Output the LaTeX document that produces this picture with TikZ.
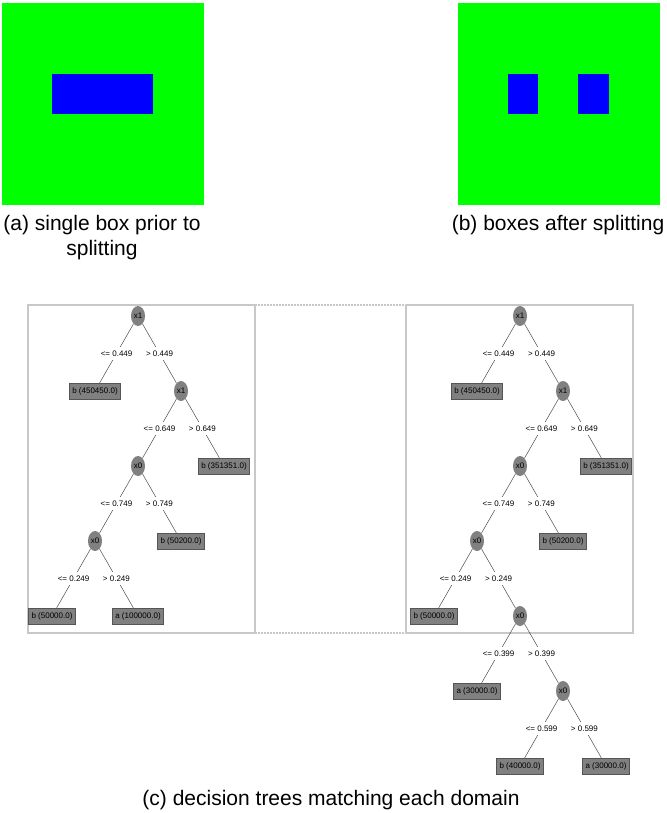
\documentclass[tikz,border=0pt]{standalone}
\usepackage{fontspec}
\setmainfont{Liberation Sans}
\usetikzlibrary{positioning,shapes.geometric}

\definecolor{domaingreen}{RGB}{0,255,0}
\definecolor{domainblue}{RGB}{0,0,255}
\definecolor{nodegray}{RGB}{128,128,128}
\definecolor{leafrim}{RGB}{85,85,85}
\definecolor{framegray}{RGB}{200,200,200}

\begin{document}
\begin{tikzpicture}[x=1pt,y=-1pt,node distance=75pt and 43pt,on grid,
    split/.style={ellipse,fill=nodegray,minimum width=14pt,minimum height=20pt,
      inner sep=0pt,font=\fontsize{8}{9}\selectfont},
    leaf/.style={rectangle,draw=leafrim,fill=nodegray,minimum height=16pt,
      inner xsep=3pt,inner ysep=0pt,font=\fontsize{8}{9}\selectfont},
    cond/.style={fill=white,inner xsep=2pt,inner ysep=4pt,font=\fontsize{8}{9}\selectfont},
    branch/.style={draw=black!70,line width=0.5pt},
    frame/.style={draw=framegray,line width=2pt},
    caption/.style={font=\fontsize{21}{25}\selectfont,align=center}]
  \useasboundingbox (0,0) rectangle (666,813);

  % domains
  \fill[domaingreen] (2,3) rectangle (204,205);
  \fill[domainblue] (52,74) rectangle (153,114);
  \fill[domaingreen] (458,3) rectangle (660,205);
  \fill[domainblue] (508,74) rectangle (538,114);
  \fill[domainblue] (578,74) rectangle (609,114);

  \node[caption] (capA) at (102,238) {(a) single box prior to\\splitting};
  \node[caption] (capB) at (558,225) {(b) boxes after splitting};

  % tree frames
  \coordinate (LT) at (255,305);
  \coordinate (LB) at (255,633);
  \coordinate (RT) at (406,305);
  \coordinate (RB) at (406,633);
  \draw[frame] (28,305) rectangle (LB);
  \draw[frame] (RT) rectangle (633,633);
  \draw[framegray,line width=1.5pt,dash pattern=on 1.5pt off 1.5pt]
    (LT) -- (RT) (LB) -- (RB);

  % left tree
  \node[split] (L1) at (138,316)    {x1};
  \node[leaf]  (L2) [below left=of L1]  {b (450450.0)};
  \node[split] (L3) [below right=of L1] {x1};
  \node[split] (L4) [below left=of L3]  {x0};
  \node[leaf]  (L5) [below right=of L3] {b (351351.0)};
  \node[split] (L6) [below left=of L4]  {x0};
  \node[leaf]  (L7) [below right=of L4] {b (50200.0)};
  \node[leaf]  (L8) [below left=of L6]  {b (50000.0)};
  \node[leaf]  (L9) [below right=of L6] {a (100000.0)};

  \path[branch] (L1) edge node[cond] {<= 0.449} (L2)
                (L1) edge node[cond] {> 0.449} (L3)
                (L3) edge node[cond] {<= 0.649} (L4)
                (L3) edge node[cond] {> 0.649} (L5)
                (L4) edge node[cond] {<= 0.749} (L6)
                (L4) edge node[cond] {> 0.749} (L7)
                (L6) edge node[cond] {<= 0.249} (L8)
                (L6) edge node[cond] {> 0.249} (L9);

  % right tree
  \node[split] (R1) at (520,316)    {x1};
  \node[leaf]  (R2) [below left=of R1]  {b (450450.0)};
  \node[split] (R3) [below right=of R1] {x1};
  \node[split] (R4) [below left=of R3]  {x0};
  \node[leaf]  (R5) [below right=of R3] {b (351351.0)};
  \node[split] (R6) [below left=of R4]  {x0};
  \node[leaf]  (R7) [below right=of R4] {b (50200.0)};
  \node[leaf]  (R8) [below left=of R6]  {b (50000.0)};
  \node[split] (R9) [below right=of R6] {x0};
  \node[leaf]  (R10) [below left=of R9]  {a (30000.0)};
  \node[split] (R11) [below right=of R9] {x0};
  \node[leaf]  (R12) [below left=of R11]  {b (40000.0)};
  \node[leaf]  (R13) [below right=of R11] {a (30000.0)};

  \path[branch] (R1) edge node[cond] {<= 0.449} (R2)
                (R1) edge node[cond] {> 0.449} (R3)
                (R3) edge node[cond] {<= 0.649} (R4)
                (R3) edge node[cond] {> 0.649} (R5)
                (R4) edge node[cond] {<= 0.749} (R6)
                (R4) edge node[cond] {> 0.749} (R7)
                (R6) edge node[cond] {<= 0.249} (R8)
                (R6) edge node[cond] {> 0.249} (R9)
                (R9) edge node[cond] {<= 0.399} (R10)
                (R9) edge node[cond] {> 0.399} (R11)
                (R11) edge node[cond] {<= 0.599} (R12)
                (R11) edge node[cond] {> 0.599} (R13);

  \node[caption] (capC) at (331,800) {(c) decision trees matching each domain};
\end{tikzpicture}
\end{document}
